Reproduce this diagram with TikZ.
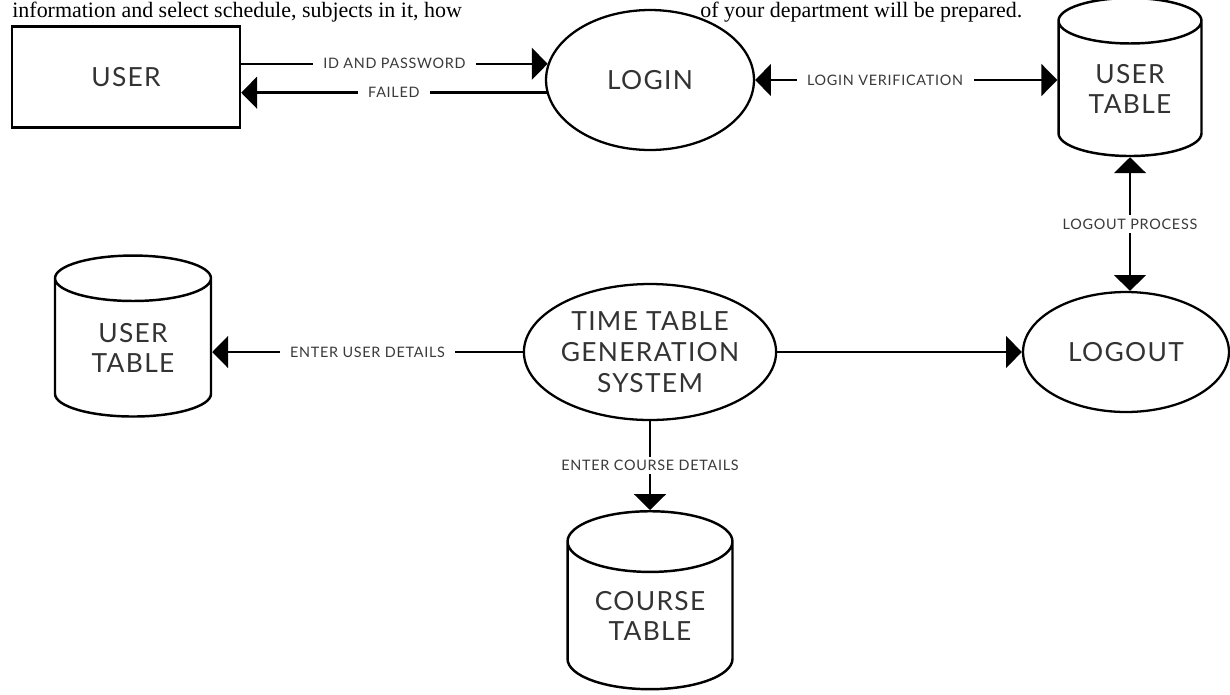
\documentclass[tikz,border=0pt]{standalone}
\usepackage{fontspec}
\setmainfont{Lato}
\newfontfamily\notefont{Liberation Serif}
\newfontfamily\lblfont[LetterSpace=5]{Lato}
\newfontfamily\boxfont[LetterSpace=5]{Lato}
\usetikzlibrary{shapes.geometric,arrows.meta,positioning}
\definecolor{inkgray}{HTML}{333333}
\definecolor{lblgray}{HTML}{3A3A3A}

\tikzset{
    entity/.style={rectangle, draw, line width=1.4pt, inner sep=0pt, text=inkgray, font=\boxfont\fontsize{15}{17.5}\selectfont},
    process/.style={ellipse, draw, line width=1.3pt, inner sep=0pt, align=center, text=inkgray, font=\boxfont\fontsize{15}{17.5}\selectfont},
    datastore/.style={cylinder, shape border rotate=90, aspect=0.55, draw, line width=1.4pt, inner sep=0pt, align=center, text=inkgray, font=\boxfont\fontsize{15}{17.5}\selectfont},
    flow/.style={line width=1.4pt, -{Triangle[length=9pt,width=18pt]}},
    twoway/.style={line width=1.4pt, {Triangle[length=9pt,width=18pt]}-{Triangle[length=9pt,width=18pt]}},
    lbl/.style={fill=white, inner xsep=6pt, inner ysep=2pt, text=lblgray, font=\lblfont\fontsize{8.2}{10}\selectfont},
    note/.style={anchor=base west, inner sep=0pt, font=\notefont\fontsize{12.5}{15}\selectfont}
}

\begin{document}
\begin{tikzpicture}[x=0.02cm, y=-0.02cm]
    \useasboundingbox (0,0) rectangle (1230,694);

    \node (note1) [note] at (12,17) {information and select schedule, subjects in it, how};
    \node (note2) [note] at (700,17) {of your department will be prepared.};

    \node (user) [entity, minimum width=4.56cm, minimum height=2.02cm] at (126,77) {USER};
    \node (login) [process, minimum width=4.16cm, minimum height=2.8cm] at (650,80) {LOGIN};
    \node (usertab) [datastore, minimum width=2.86cm, minimum height=3.16cm] at (1130,89) {USER\\TABLE};
    \node (ttgs) [process, minimum width=4.8cm, minimum height=2.72cm] at (650,352) {TIME TABLE\\GENERATION\\SYSTEM};
    \node (logout) [process, minimum width=4.12cm, minimum height=2.4cm] at (1126,352) {LOGOUT};
    \node (usertab2) [datastore, minimum width=3.12cm, minimum height=3.22cm] at (133,348) {USER\\TABLE};
    \node (coursetab) [datastore, minimum width=3.3cm, minimum height=3.56cm] at (650,616) {COURSE\\TABLE};

    \draw[flow] (user.east |- login.171) -- node[lbl] {ID AND PASSWORD} (login.171);
    \draw[flow] (login.187) -- node[lbl] {FAILED} (login.187 -| user.east);
    \draw[twoway] (login.east) -- node[lbl, pos=0.43] {LOGIN VERIFICATION} (login.east -| usertab.west);
    \draw[twoway] (usertab.south) -- node[lbl] {LOGOUT PROCESS} (usertab.south |- logout.north);
    \draw[flow] (ttgs.east) -- (ttgs.east -| logout.west);
    \draw[flow] (ttgs.west) -- node[lbl] {ENTER USER DETAILS} (ttgs.west -| usertab2.east);
    \draw[flow] (ttgs.south) -- node[lbl] {ENTER COURSE DETAILS} (ttgs.south |- coursetab.north);
\end{tikzpicture}
\end{document}
